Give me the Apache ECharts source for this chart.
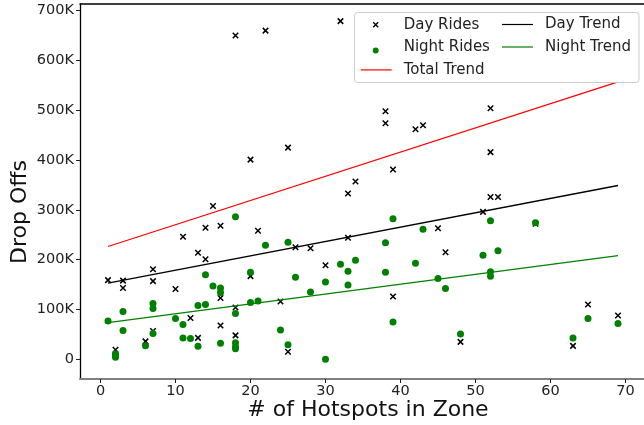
<!DOCTYPE html>
<html>
<head>
<meta charset="utf-8">
<script src="https://cdn.jsdelivr.net/npm/echarts@6/dist/echarts.min.js"></script>
<style>html,body{margin:0;padding:0;background:#fff}#c{width:644px;height:425px}</style>
</head>
<body>
<div id="c"></div>
<script>
// Day rides (x = hotspots, y = drop offs in thousands)
var dayX = [18,22,20,32,25,38,38,42,43,39,34,33,52,52,52,53,51,46,45,58,65,69,48,63,33,26,28,30,24,39,25,21,15,11,14,16,13,14,7,1,3,3,7,10,20,16,18,12,16,7,13,18,6,2];
var dayY = [650,660,401,679,425,498,474,462,470,381,357,333,504,416,326,326,296,215,263,272,110,88,35,27,244,225,223,189,116,126,15,258,308,246,264,268,214,201,181,159,158,143,157,141,167,123,104,83,68,57,43,48,36,19];
// Night rides
var nightX = [18,22,20,14,15,16,16,7,7,3,1,10,11,13,14,18,20,21,3,7,11,12,13,6,16,18,18,18,2,2,2,24,25,39,43,38,32,34,33,42,38,26,30,33,28,45,46,39,25,30,48,52,58,53,51,52,52,65,69,63];
var nightY = [286,229,175,170,147,143,134,112,102,96,77,82,70,108,110,92,114,117,58,52,43,42,26,27,32,33,25,21,11,7,4,59,235,282,261,234,191,199,177,193,175,165,155,149,135,162,142,75,29,0,51,278,274,218,209,176,167,82,72,43];
// Trend line endpoints
var trendX = [1,69];
var dayTrend = [153,349];
var nightTrend = [73.5,208];
var totalTrend = [226.5,557];
// Ticks
var xTicks = [0,10,20,30,40,50,60,70];
var yTicks = [0,100,200,300,400,500,600,700];

function pairs(xs, ys){ return xs.map(function(x,i){ return [x, ys[i]*1000]; }); }

var chart = echarts.init(document.getElementById('c'), null, {renderer:'canvas'});
var FONT = 'DejaVu Sans';
var xMarker = 'path://M0,0L10,10M10,0L0,10';
var legendX = 'path://M0,0M38,14M12.5,4.5L17.5,9.5M17.5,4.5L12.5,9.5';
var legendDot = 'path://M0,0M38,14M15,7a3,3 0 1,0 0.001,0Z';
function legendLine(){ return 'path://M0,0M38,14M0,6.4L31,6.4L31,7.6L0,7.6Z'; }

var option = {
  animation: false,
  backgroundColor: '#fff',
  grid: {left: 80, top: 4, right: 0, bottom: 46, containLabel: false},
  xAxis: [{
    type: 'value', position: 'bottom', min: -2.7333, max: 72.4667,
    splitLine: {show: false},
    axisLine: {show: true, onZero: false, lineStyle: {color: '#808080', width: 2}},
    axisTick: {show: true, length: 4, lineStyle: {color: '#222', width: 1}, customValues: xTicks},
    axisLabel: {customValues: xTicks, color: '#222', fontFamily: FONT, fontSize: 14.5, margin: 5}
  },{
    type: 'value', position: 'top', min: -2.7333, max: 72.4667,
    splitLine: {show: false},
    axisLine: {show: true, onZero: false, lineStyle: {color: '#000', width: 1.5}},
    axisTick: {show: false}, axisLabel: {show: false}
  }],
  yAxis: {
    type: 'value', min: -39560, max: 713440,
    splitLine: {show: false},
    axisLine: {show: true, onZero: false, lineStyle: {color: '#000', width: 1.3}},
    axisTick: {show: true, length: 4, lineStyle: {color: '#222', width: 1}, customValues: yTicks.map(function(v){return v*1000;})},
    axisLabel: {customValues: yTicks.map(function(v){return v*1000;}), color: '#222', fontFamily: FONT, fontSize: 14.5, margin: 6,
      formatter: function(v){ return v === 0 ? '0' : (v/1000) + 'K'; }}
  },
  legend: [{
    orient: 'vertical', left: 360, top: 17, padding: 0, itemWidth: 38, itemHeight: 14, itemGap: 7.5,
    textStyle: {fontFamily: FONT, fontSize: 15, lineHeight: 14, color: '#222'},
    z: 6,
    data: [
      {name: 'Day Rides', icon: legendX, itemStyle: {color: 'rgba(0,0,0,0)', borderColor: '#000', borderWidth: 1.4}},
      {name: 'Night Rides', icon: legendDot, itemStyle: {color: '#008000', borderWidth: 0}},
      {name: 'Total Trend', icon: legendLine(), itemStyle: {color: '#ff0000', borderWidth: 0}}
    ]
  },{
    orient: 'vertical', left: 502, top: 17, padding: 0, itemWidth: 38, itemHeight: 14, itemGap: 7.5,
    textStyle: {fontFamily: FONT, fontSize: 15, lineHeight: 14, color: '#222'},
    z: 6,
    data: [
      {name: 'Day Trend', icon: legendLine(), itemStyle: {color: '#000', borderWidth: 0}},
      {name: 'Night Trend', icon: legendLine(), itemStyle: {color: '#008000', borderWidth: 0}}
    ]
  }],
  graphic: [
    {type: 'rect', z: 5, shape: {x: 354.5, y: 12.5, width: 284.5, height: 70, r: 3},
     style: {fill: 'rgba(255,255,255,0.85)', stroke: '#cccccc', lineWidth: 1}},
    {type: 'text', z: 5, x: 20, y: 212, rotation: Math.PI/2,
     style: {text: 'Drop Offs', font: '22px "DejaVu Sans"', fill: '#111', align: 'center', verticalAlign: 'middle'}},
    {type: 'text', z: 5, x: 368, y: 410,
     style: {text: '# of Hotspots in Zone', font: '22px "DejaVu Sans"', fill: '#111', align: 'center', verticalAlign: 'middle'}}
  ],
  series: [
    {name: 'Day Rides', type: 'scatter', data: pairs(dayX, dayY), symbol: xMarker, symbolSize: 5.5,
     itemStyle: {color: 'rgba(0,0,0,0)', borderColor: '#000', borderWidth: 1.5, opacity: 1}, z: 2},
    {name: 'Night Rides', type: 'scatter', data: pairs(nightX, nightY), symbol: 'circle', symbolSize: 7,
     itemStyle: {color: '#008000', opacity: 1}, z: 2},
    {name: 'Day Trend', type: 'line', data: pairs(trendX, dayTrend), symbol: 'none',
     lineStyle: {color: '#000', width: 1.3}, itemStyle: {color: '#000'}, z: 3},
    {name: 'Night Trend', type: 'line', data: pairs(trendX, nightTrend), symbol: 'none',
     lineStyle: {color: '#008000', width: 1.3}, itemStyle: {color: '#008000'}, z: 3},
    {name: 'Total Trend', type: 'line', data: pairs(trendX, totalTrend), symbol: 'none',
     lineStyle: {color: '#ff0000', width: 1.3}, itemStyle: {color: '#ff0000'}, z: 3}
  ]
};
chart.setOption(option);
</script>
</body>
</html>
